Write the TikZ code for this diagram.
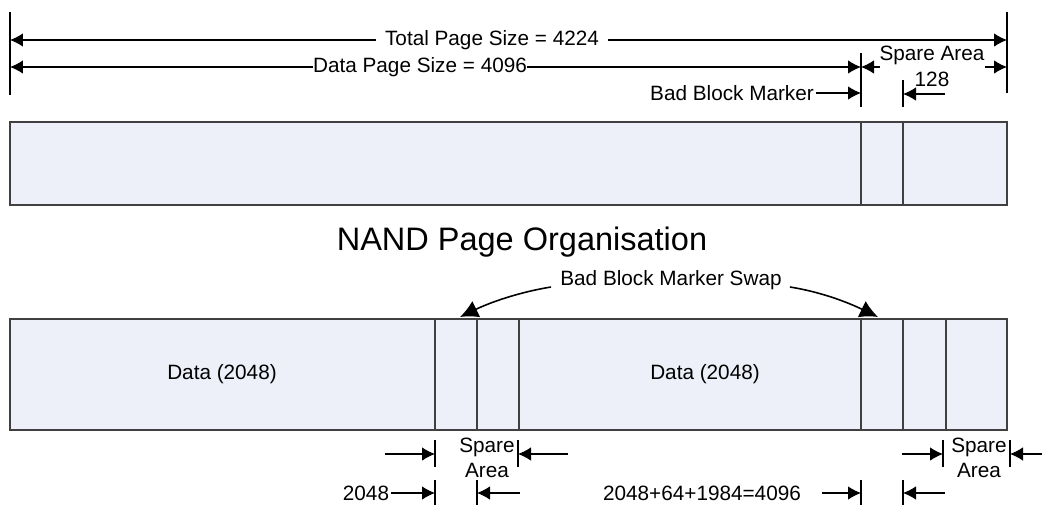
\documentclass[tikz,border=0pt]{standalone}
\usepackage{fontspec}
\setmainfont{Liberation Sans}
\usetikzlibrary{arrows.meta,positioning,calc}
\definecolor{pagefill}{HTML}{EDF0F8}
\definecolor{pageline}{HTML}{404040}

\begin{document}
\begin{tikzpicture}[x=0.02cm,y=-0.02cm,font=\fontsize{11.8}{14.2}\selectfont,
    dim/.style={-{Latex[length=2.6mm,width=2.7mm]},line width=0.6pt},
    tick/.style={line width=0.6pt},
    page/.style={draw=pageline,line width=1.1pt,fill=pagefill},
    divider/.style={draw=pageline,line width=1pt},
    lbl/.style={inner sep=1pt}]
  \useasboundingbox (0,0) rectangle (1042,505);

  % extension lines above the page
  \coordinate (lt) at (10,12);   \coordinate (lb) at (10,95);
  \coordinate (rt) at (1007,12); \coordinate (rb) at (1007,93);
  \coordinate (dt) at (861,53);  \coordinate (db) at (861,107);
  \coordinate (st) at (903,80);  \coordinate (sb) at (903,107);
  \draw[tick] (lt) -- (lb);
  \draw[tick] (rt) -- (rb);
  \draw[tick] (dt) -- (db);
  \draw[tick] (st) -- (sb);

  \node[lbl,inner xsep=5pt] (total) at (492,40) {Total Page Size = 4224};
  \draw[dim] (total.west) -- (total.west -| lt);
  \draw[dim] (total.east) -- (total.east -| rt);

  \node[lbl,inner xsep=0pt] (data) at (420,67) {Data Page Size = 4096};
  \draw[dim] (data.west) -- (data.west -| lt);
  \draw[dim] (data.east) -- (data.east -| dt);

  \node[lbl] (spare) at (932,55) {Spare Area};
  \coordinate (sl) at (880,67); \coordinate (sr) at (985,67);
  \draw[dim] (sl) -- (sl -| dt);
  \draw[dim] (sr) -- (sr -| rt);

  \node[lbl] (bbm) at (732,93) {Bad Block Marker};
  \draw[dim] (bbm.east) -- (bbm.east -| dt);

  \node[lbl] (oneeight) at (932,79) {128};
  \coordinate (oe) at (945,94);
  \draw[dim] (oe) -- (oe -| st);

  % page layout
  \draw[page] (10,122) rectangle (1007,205);
  \draw[divider] (861,122) -- (861,205);
  \draw[divider] (903,122) -- (903,205);

  \node[font=\fontsize{18.5}{22}\selectfont] (title) at (522,242) {NAND Page Organisation};

  % swapped page
  \draw[page] (10,319) rectangle (1007,430);
  \foreach \x in {435,477,519,861,903,946}
    \draw[divider] (\x,319) -- (\x,430);
  \node (dataa) at (222,374) {Data (2048)};
  \node (datab) at (705,374) {Data (2048)};

  \node[lbl] (swap) at (671,280) {Bad Block Marker Swap};
  \coordinate (swl) at (460,317);
  \coordinate (swr) at (878,317);
  \draw[-{Latex[length=3.6mm,width=3.6mm]},line width=0.9pt]
    (551,287) .. controls +(-31,5) and +(31,-15) .. (swl);
  \draw[-{Latex[length=3.6mm,width=3.6mm]},line width=0.9pt]
    (790,287) .. controls +(31,5) and +(-31,-15) .. (swr);

  % extension lines below the page
  \foreach \n/\x/\ya/\yb in {ba/435/440/467, bb/518/440/467, bc/943/440/467, bd/1010/440/467,
                             be/435/480/505, bf/477/480/505, bg/861/480/505, bh/903/480/505}
    {\coordinate (\n) at (\x,\ya); \draw[tick] (\n) -- (\x,\yb);}

  \node[lbl,align=center] (sparea) at (487,458) {Spare\\Area};
  \node[lbl,align=center] (spareb) at (979,458) {Spare\\Area};
  \coordinate (fa) at (385,454);  \draw[dim] (fa) -- (fa -| ba);
  \coordinate (fb) at (568,454);  \draw[dim] (fb) -- (fb -| bb);
  \coordinate (fc) at (902,454);  \draw[dim] (fc) -- (fc -| bc);
  \coordinate (fd) at (1042,454); \draw[dim] (fd) -- (fd -| bd);

  \node[lbl] (twok) at (366,493) {2048};
  \draw[dim] (twok.east) -- (twok.east -| be);
  \coordinate (ff) at (520,493);  \draw[dim] (ff) -- (ff -| bf);
  \node[lbl] (sum) at (702,493) {2048+64+1984=4096};
  \coordinate (fg) at (822,493);  \draw[dim] (fg) -- (fg -| bg);
  \coordinate (fh) at (945,493);  \draw[dim] (fh) -- (fh -| bh);
\end{tikzpicture}
\end{document}
